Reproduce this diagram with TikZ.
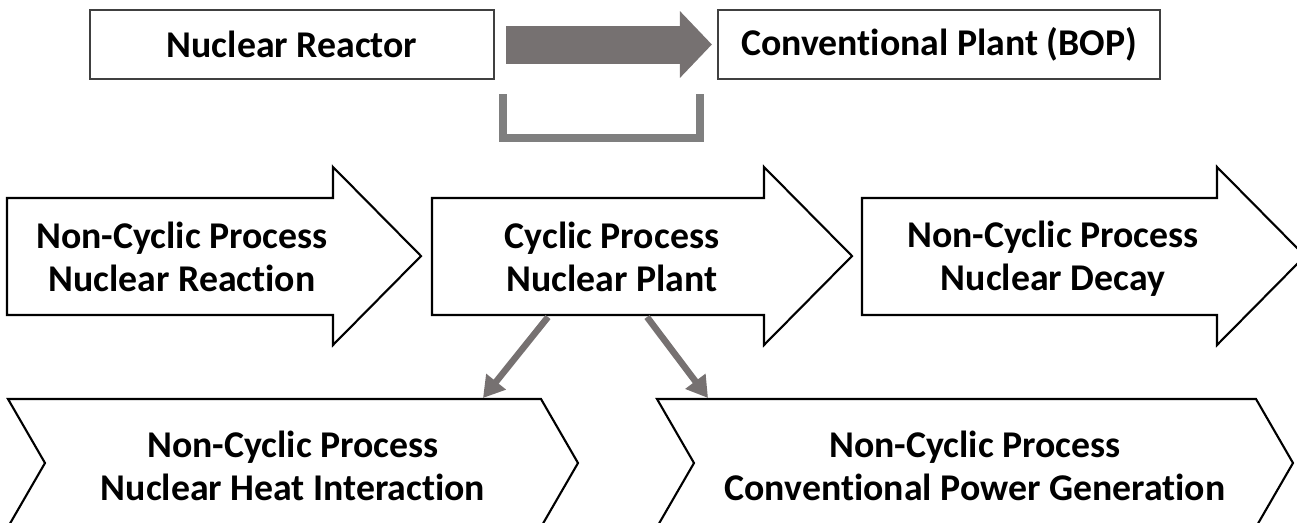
\documentclass[tikz,border=0pt]{standalone}
\usepackage{fontspec}
\setmainfont{Carlito}[Ligatures=CommonOff]
\usetikzlibrary{arrows.meta, calc}
\definecolor{boxgray}{HTML}{404040}
\definecolor{flowgray}{HTML}{767171}
\definecolor{brgray}{HTML}{7F7F7F}
\tikzset{
  lab/.style={font=\bfseries\fontsize{21.5}{24.6}\selectfont, align=center, inner sep=0pt},
  box/.style={lab, draw=boxgray, line width=1.3pt, minimum height=1.38cm},
  outl/.style={draw=black, line width=1.2pt, fill=white, line join=miter},
  fat/.style={flowgray, line width=0.76cm, shorten <=0.22cm, shorten >=0.1cm, -{Triangle[length=0.64cm, width=1.3cm]}},
  brk/.style={brgray, line width=0.16cm, line join=miter},
  conn/.style={flowgray, line width=0.13cm, -{Triangle[length=0.42cm, width=0.48cm]}}
}
% block arrow: tail x, tip x
\newcommand{\procarr}[2]{\draw[outl] (#1,198) -- (#2-88,198) -- (#2-88,167) -- (#2,256) -- (#2-88,345) -- (#2-88,315) -- (#1,315) -- cycle;}
% chevron: left x, top right x
\newcommand{\chev}[2]{\draw[outl] (#1,399) -- (#2,399) -- (#2+37,463) -- (#2,527) -- (#1,527) -- (#1+37,463) -- cycle;}

\begin{document}
\begin{tikzpicture}[x=0.02cm, y=-0.02cm]
	\useasboundingbox (0,0) rectangle (1297,522);
	\node[box, minimum width=8.08cm] (rx) at (292,44.5) {Nuclear Reactor};
	\node[box, minimum width=8.84cm] (bop) at (939,44.5) {Conventional Plant (BOP)};
	\draw[fat] (rx.east) -- (bop.west);
	\draw[brk] (502.5,94) -- (502.5,138) -- (700,138) -- (700,94);

	\procarr{7}{421}
	\procarr{432}{852}
	\procarr{862}{1305}
	\node[lab] (p1) at (182,257) {Non-Cyclic Process\\Nuclear Reaction};
	\node[lab] (p2) at (612,257) {Cyclic Process\\Nuclear Plant};
	\node[lab] (p3) at (1053,259) {Non-Cyclic Process\\Nuclear Decay};

	\chev{8}{541}
	\chev{657}{1256}
	\node[lab] (q1) at (293,466) {Non-Cyclic Process\\Nuclear Heat Interaction};
	\node[lab] (q2) at (975,466) {Non-Cyclic Process\\Conventional Power Generation};

	\coordinate (p2a) at (548,317);
	\coordinate (p2b) at (647,317);
	\coordinate (q1t) at (483,398);
	\coordinate (q2t) at (708,398);
	\draw[conn] (p2a) -- (q1t);
	\draw[conn] (p2b) -- (q2t);
\end{tikzpicture}
\end{document}
